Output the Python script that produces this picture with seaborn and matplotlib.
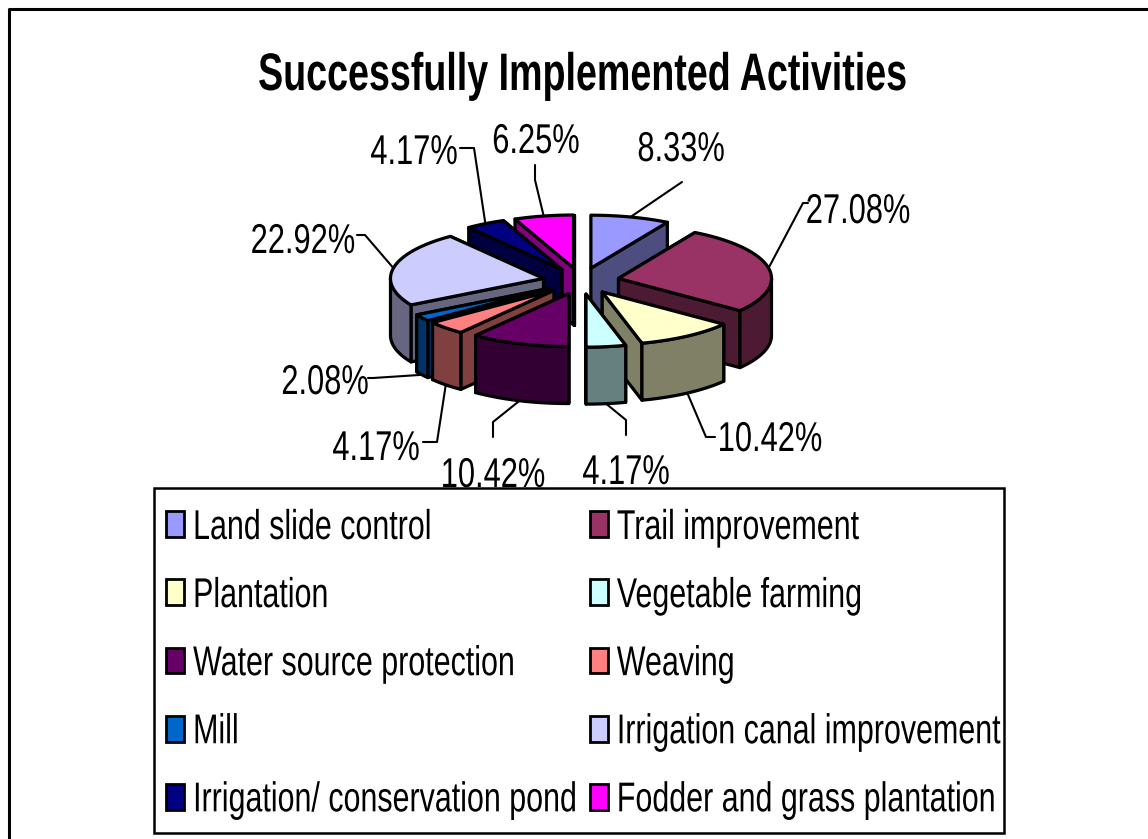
import numpy as np
import matplotlib
matplotlib.use("Agg")
import matplotlib.pyplot as plt
from matplotlib.patches import Patch, Polygon, Rectangle
from matplotlib.patheffects import AbstractPathEffect
from matplotlib.transforms import Affine2D
import seaborn as sns

activities = ['Land slide control', 'Trail improvement', 'Plantation', 'Vegetable farming',
              'Water source protection', 'Weaving', 'Mill', 'Irrigation canal improvement',
              'Irrigation/ conservation pond', 'Fodder and grass plantation']
shares = [8.33, 27.08, 10.42, 4.17, 10.42, 4.17, 2.08, 22.92, 4.17, 6.25]
colors = ['#9999FF', '#993366', '#FFFFCC', '#CCFFFF', '#660066',
          '#FF8080', '#0066CC', '#CCCCFF', '#000080', '#FF00FF']

# where the percentage labels sit, and the elbow of each leader line (pixels)
label_xy = [(681, 150), (858, 212), (770, 440), (626, 473), (493, 476),
            (376, 449), (325, 383), (303, 242), (414, 153), (536, 142)]
elbows = [[(682, 182)], [(803, 203), (808, 203)], [(706, 437), (715, 437)],
          [(626, 420), (626, 435)], [(493, 422), (493, 437)], [(437, 442), (423, 442)],
          [(373, 378), (368, 378)], [(365, 235), (357, 235)], [(474, 148), (460, 148)],
          [(535, 180), (535, 165)]]

sns.set_theme(style="white")
plt.rcParams['font.family'] = ['Liberation Sans']


class Squeeze(AbstractPathEffect):
    # narrow text sideways, no condensed Arial here. anchor_x = None means from the left end
    def __init__(self, sx, anchor_x=None):
        super().__init__()
        self.sx = sx
        self.anchor_x = anchor_x

    def draw_path(self, renderer, gc, tpath, affine, rgbFace=None):
        if self.anchor_x is None:
            new = Affine2D().scale(self.sx, 1) + affine
        else:
            new = affine + Affine2D().translate(-self.anchor_x, 0).scale(self.sx, 1).translate(self.anchor_x, 0)
        renderer.draw_path(gc, tpath, new, rgbFace)


fig = plt.figure(figsize=(11.48, 8.39), dpi=100)
ax = fig.add_axes([0, 0, 1, 1])
ax.set_xlim(0, 1148)
ax.set_ylim(839, 0)
ax.axis('off')

# pie geometry
cx, cy = 581, 281
rx, ry = 153, 53
depth = 57
explode = 0.25
lw = 2.3


def rim(ang, ox, oy):
    # angle runs clockwise from 12 o'clock, like the office pie
    return ox + rx * np.sin(ang), oy - ry * np.cos(ang)


def darker(c):
    return tuple(v * 0.5 for v in matplotlib.colors.to_rgb(c))


edges = np.radians(np.cumsum([0] + shares) * 3.6 * 100 / sum(shares))
slices = []
for i in range(len(shares)):
    a0, a1 = edges[i], edges[i + 1]
    mid = (a0 + a1) / 2
    ox = cx + explode * rx * np.sin(mid)
    oy = cy - explode * ry * np.cos(mid)
    slices.append((i, a0, a1, mid, ox, oy))

# back to front
for i, a0, a1, mid, ox, oy in sorted(slices, key=lambda s: s[5]):
    side = darker(colors[i])
    for a in sorted([a0, a1], key=lambda v: -np.cos(v)):
        x, y = rim(a, ox, oy)
        ax.add_patch(Polygon([(ox, oy), (x, y), (x, y + depth), (ox, oy + depth)],
                             fc=side, ec='black', lw=lw, joinstyle='round', zorder=2))
    t = np.linspace(a0, a1, 80)
    t = t[np.cos(t) <= 0.02]
    if len(t) > 1:
        x, y = rim(t, ox, oy)
        wall = np.r_[np.c_[x, y], np.c_[x, y + depth][::-1]]
        ax.add_patch(Polygon(wall, fc=side, ec='black', lw=lw, joinstyle='round', zorder=2))
    t = np.linspace(a0, a1, 80)
    x, y = rim(t, ox, oy)
    top = np.r_[[(ox, oy)], np.c_[x, y]]
    ax.add_patch(Polygon(top, fc=colors[i], ec='black', lw=lw, joinstyle='round', zorder=2))

# leader lines and labels
for i, a0, a1, mid, ox, oy in slices:
    x, y = rim(mid, ox, oy)
    if np.cos(mid) < 0:
        y += depth
    pts = [(x, y)] + elbows[i]
    ax.plot(*zip(*pts), color='black', lw=1.5, zorder=3)
    ax.text(*label_xy[i], f'{shares[i]:.2f}%', fontsize=30, ha='center', va='center', color='black',
            zorder=3, path_effects=[Squeeze(0.74, label_xy[i][0])])

ax.text(582, 76, 'Successfully Implemented Activities', fontsize=38, fontweight='bold',
        ha='center', va='center', color='black', path_effects=[Squeeze(0.713, 582)])

# outer frame of the chart, it only shows at the top and on the left
ax.plot([9, 9, 1148], [839, 9, 9], color='black', lw=2.2, zorder=1)

# legend box, the legend itself only lays out swatches and squeezed text
ax.add_patch(Rectangle((154, 488), 850, 345, fc='white', ec='black', lw=1.8, zorder=4))
handles = [Patch(fc=c, ec='black', lw=2) for c in colors]
order = [0, 2, 4, 6, 8, 1, 3, 5, 7, 9]
leg = ax.legend([handles[k] for k in order], [activities[k] for k in order],
                ncol=2, loc='upper left', bbox_to_anchor=(166 / 1148, 1 - 508 / 839),
                bbox_transform=fig.transFigure, fontsize=30, frameon=False, labelcolor='black',
                borderaxespad=0, borderpad=0, labelspacing=0.674, handlelength=0.43,
                handleheight=0.58, handletextpad=0.22, columnspacing=-3.08)
leg.set_zorder(5)
for txt in leg.get_texts():
    txt.set_path_effects([Squeeze(0.73)])

fig.savefig('out.png', dpi=100, facecolor='white')
